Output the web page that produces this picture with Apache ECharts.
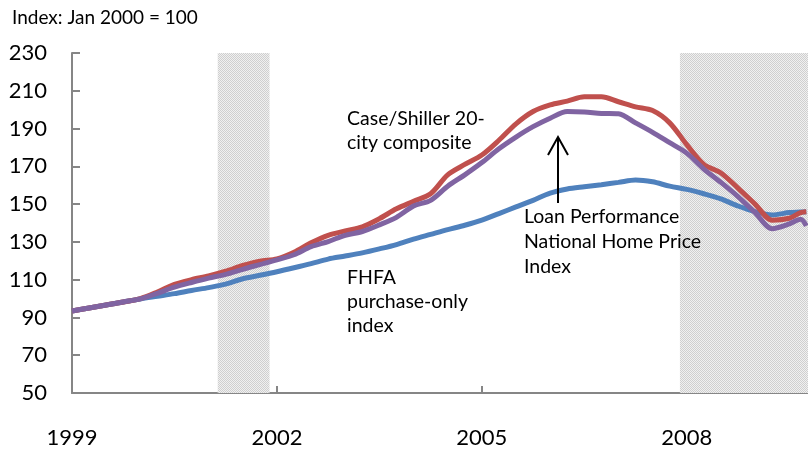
<!DOCTYPE html>
<html>
<head>
<meta charset="utf-8">
<script src="https://cdn.jsdelivr.net/npm/echarts@6/dist/echarts.min.js"></script>
<style>
  html, body { margin: 0; padding: 0; background: #fff; }
  #chart { width: 808px; height: 451px; }
</style>
</head>
<body>
<div id="chart"></div>
<script>
// months since Jan 1999
var months = [0, 3, 6, 9, 12, 15, 18, 21, 24, 27, 30, 33, 36, 39, 42, 45, 48, 51, 54, 57, 60, 63, 66, 69,
  72, 75, 78, 81, 84, 87, 90, 93, 96, 99, 102, 105, 108, 111, 114, 117, 120, 123, 126, 128, 129];

var fhfa = [93.4, 95, 96.6, 98.2, 99.8, 101.2, 102.6, 104.3, 105.8, 107.6, 110.5, 112.3, 114.2, 116.3, 118.5, 120.9,
  122.5, 124.2, 126.3, 128.6, 131.5, 134, 136.5, 138.8, 141.5, 145, 148.5, 152, 155.8, 158, 159.2, 160.3,
  161.5, 162.8, 161.8, 159.5, 157.8, 155.5, 152.8, 149, 146, 144.3, 145.5, 145.8, 146];

var caseShiller = [93.4, 95, 96.6, 98.2, 100, 103.5, 107.5, 110, 112, 114.5, 117.5, 119.8, 121, 124.5, 129.5, 133.5,
  135.8, 138, 142.3, 147.5, 151.5, 155.5, 165.5, 171, 176, 183.8, 192.5, 199, 202.5, 204.5, 206.8, 206.8,
  204.2, 201.5, 199.5, 193, 181.5, 171, 166.5, 158.5, 150, 141.5, 142.5, 145.5, 146];

var loanPerf = [93.4, 95, 96.6, 98.2, 99.8, 102.8, 106, 108.5, 110.8, 112.8, 115.5, 118, 120.5, 123.2, 127.5, 130.2,
  133.5, 135.5, 139, 143, 149, 152, 159.5, 165.5, 172, 179.3, 185.5, 191, 195.5, 199, 198.8, 198,
  197.8, 193, 188, 182.5, 177, 168.5, 161.5, 154, 145.5, 137, 139.5, 142, 138.5];

// recessions, months since Jan 1999
var recessions = [[25.6, 34.7], [106.8, 130]];

var yearTicks = [0, 36, 72, 108];

function pairs(vals) {
  var out = [];
  for (var i = 0; i < vals.length; i++) out.push([months[i], vals[i]]);
  return out;
}

// dotted fill for recession bands
var pat = document.createElement('canvas');
pat.width = 2; pat.height = 2;
var pctx = pat.getContext('2d');
pctx.fillStyle = '#f0f0f0'; pctx.fillRect(0, 0, 2, 2);
pctx.fillStyle = '#cfcfcf'; pctx.fillRect(0, 0, 1, 1); pctx.fillRect(1, 1, 1, 1);

var font = 'Lato';
var chart = echarts.init(document.getElementById('chart'));

chart.setOption({
  animation: false,
  title: {
    text: 'Index: Jan 2000 = 100',
    left: 7, top: 3,
    textStyle: { fontFamily: font, fontSize: 19, fontWeight: 'normal', color: '#000' }
  },
  grid: { left: 72, right: 0, top: 53, bottom: 58 },
  xAxis: {
    type: 'value',
    min: 0, max: 129.3, interval: 36,
    axisLine: { lineStyle: { color: '#868686', width: 2 } },
    axisTick: { inside: true, length: 7, lineStyle: { color: '#868686', width: 2 } },
    splitLine: { show: false },
    axisLabel: {
      showMaxLabel: false,
      margin: 34,
      fontFamily: font, fontSize: 22, color: '#000',
      formatter: function (v) {
        return yearTicks.indexOf(v) >= 0 ? String(1999 + v / 12) : '';
      }
    }
  },
  yAxis: {
    type: 'value',
    min: 50, max: 230, interval: 20,
    axisLine: { show: true, lineStyle: { color: '#868686', width: 2 } },
    axisTick: { show: true, inside: true, length: 8, lineStyle: { color: '#868686', width: 2 } },
    splitLine: { show: false },
    axisLabel: { margin: 25, fontFamily: font, fontSize: 22, color: '#000' }
  },
  series: [
    {
      type: 'line', data: [], z: 1, silent: true,
      markArea: {
        silent: true,
        itemStyle: { color: { image: pat, repeat: 'repeat' } },
        data: recessions.map(function (r) { return [{ xAxis: r[0] }, { xAxis: r[1] }]; })
      }
    },
    { name: 'FHFA', type: 'line', z: 3, data: pairs(fhfa), showSymbol: false, smooth: 0.3,
      lineStyle: { color: '#4F81BD', width: 5 } },
    { name: 'Case/Shiller', type: 'line', z: 4, data: pairs(caseShiller), showSymbol: false, smooth: 0.3,
      lineStyle: { color: '#C0504D', width: 5 } },
    { name: 'Loan Performance', type: 'line', z: 5, data: pairs(loanPerf), showSymbol: false, smooth: 0.3,
      lineStyle: { color: '#8064A2', width: 5 } }
  ],
  graphic: [
    { type: 'text', z: 100, left: 347, top: 107, style: { text: 'Case/Shiller 20-\ncity composite', font: '19.5px Lato', fill: '#000', lineHeight: 24 } },
    { type: 'text', z: 100, left: 347, top: 266, style: { text: 'FHFA\npurchase-only\nindex', font: '19.5px Lato', fill: '#000', lineHeight: 24 } },
    { type: 'text', z: 100, left: 524, top: 204, style: { text: 'Loan Performance\nNational Home Price\nIndex', font: '19.5px Lato', fill: '#000', lineHeight: 25 } },
    { type: 'line', z: 100, shape: { x1: 558, y1: 203, x2: 558, y2: 138 }, style: { stroke: '#000', lineWidth: 2 } },
    { type: 'polyline', z: 100, shape: { points: [[548, 155], [558, 137], [568, 155]] }, style: { stroke: '#000', lineWidth: 2, fill: null } }
  ]
});
</script>
</body>
</html>
